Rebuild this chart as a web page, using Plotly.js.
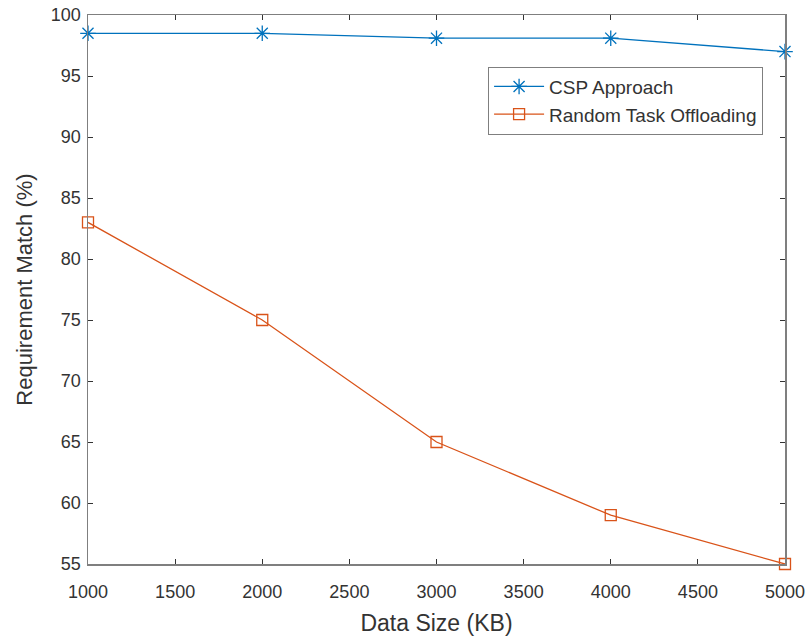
<!DOCTYPE html>
<html>
<head>
<meta charset="utf-8">
<script src="https://cdn.plot.ly/plotly-3.0.1.min.js"></script>
<style>html,body{margin:0;padding:0;background:#fff;}#chart{width:812px;height:639px;}</style>
</head>
<body>
<div id="chart"></div>
<script>
const dataSize = [1000, 2000, 3000, 4000, 5000];
const cspApproach = [98.5, 98.5, 98.1, 98.1, 97.0];
const randomOffloading = [83, 75, 65, 59, 55];
const xTicks = [1000, 1500, 2000, 2500, 3000, 3500, 4000, 4500, 5000];
const yTicks = [55, 60, 65, 70, 75, 80, 85, 90, 95, 100];

const traces = [
  {
    x: dataSize, y: cspApproach, name: 'CSP Approach',
    type: 'scatter', mode: 'lines+markers',
    line: {color: '#0072BD', width: 1.3},
    marker: {symbol: 'asterisk-open', size: 13, color: '#0072BD', line: {color: '#0072BD', width: 1.3}},
    cliponaxis: false
  },
  {
    x: dataSize, y: randomOffloading, name: 'Random Task Offloading',
    type: 'scatter', mode: 'lines+markers',
    line: {color: '#D95319', width: 1.3},
    marker: {symbol: 'square-open', size: 11, color: '#D95319', line: {color: '#D95319', width: 1.3}},
    cliponaxis: false
  }
];

const axisCommon = {
  showgrid: false, zeroline: false,
  showline: true, mirror: 'ticks', linecolor: '#7f7f7f', linewidth: 1.5,
  ticks: 'inside', ticklen: 5, tickwidth: 1, tickcolor: '#333333',
  tickfont: {family: 'Liberation Sans, Arial, sans-serif', size: 18, color: '#333333'}
};

const layout = {
  width: 812, height: 639,
  margin: {l: 88, r: 27, t: 15, b: 75},
  paper_bgcolor: '#ffffff', plot_bgcolor: '#ffffff',
  showlegend: true,
  font: {family: 'Liberation Sans, Arial, sans-serif', color: '#333333'},
  xaxis: Object.assign({}, axisCommon, {
    range: [1000, 5000], tickvals: xTicks, ticktext: xTicks.map(String),
    ticklabelstandoff: 11,
    automargin: false,
    title: {text: 'Data Size (KB)', font: {size: 23, color: '#333333'}, standoff: 14}
  }),
  yaxis: Object.assign({}, axisCommon, {
    range: [55, 100], tickvals: yTicks, ticktext: yTicks.map(String),
    automargin: false,
    ticklabelstandoff: 2,
    title: {text: 'Requirement Match (%)', font: {size: 22, color: '#333333'}, standoff: 12}
  }),
  legend: {
    x: 0.574, y: 0.906, xanchor: 'left', yanchor: 'top',
    bgcolor: '#ffffff', bordercolor: '#7f7f7f', borderwidth: 1,
    font: {size: 19, color: '#333333'},
    tracegroupgap: 0, itemwidth: 50
  }
};

Plotly.newPlot('chart', traces, layout, {displayModeBar: false, staticPlot: true});
</script>
</body>
</html>
